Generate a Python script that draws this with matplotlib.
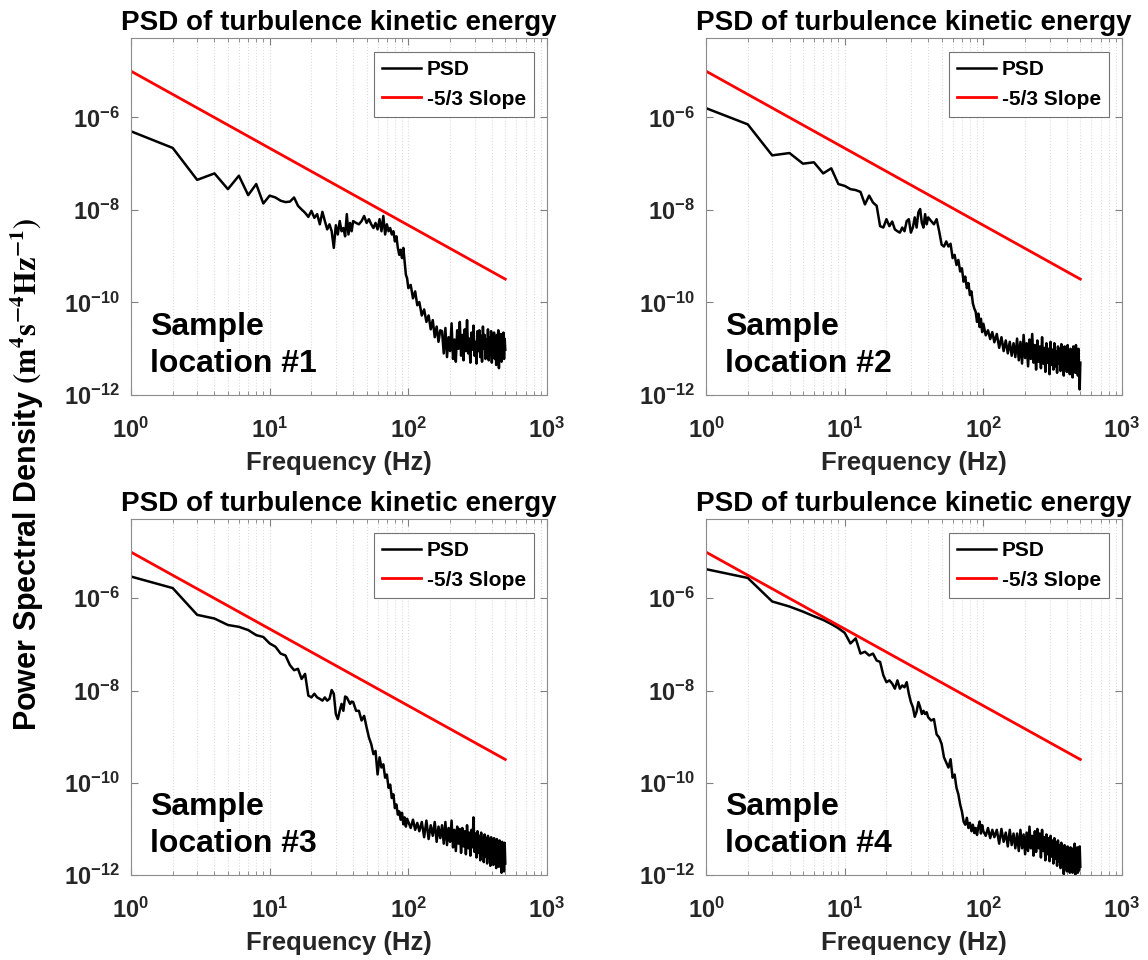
import numpy as np
import matplotlib.pyplot as plt
from matplotlib.ticker import FuncFormatter, LogLocator, NullLocator

plt.rcParams['font.family'] = ['Liberation Sans', 'DejaVu Sans']
plt.rcParams['font.weight'] = 'bold'
plt.rcParams['mathtext.fontset'] = 'custom'
plt.rcParams['mathtext.rm'] = 'Liberation Sans:bold'
plt.rcParams['mathtext.bf'] = 'Liberation Sans:bold'
plt.rcParams['mathtext.it'] = 'Liberation Sans:bold:italic'

# frequency bins (Hz) shared by all four spectra
freq_hz = list(range(1, 41)) + list(range(42, 101, 2)) + list(range(104, 121, 4)) + list(range(125, 501, 5))

# log10 of PSD
psd1_log = [
    -6.30, -6.66, -7.35, -7.21, -7.55, -7.26, -7.68, -7.44, -7.86, -7.69,
    -7.73, -7.80, -7.83, -7.82, -7.73, -7.91, -7.99, -8.06, -8.15, -8.02,
    -8.17, -8.09, -8.31, -8.04, -8.24, -8.42, -8.31, -8.46, -8.82, -8.33,
    -8.53, -8.24, -8.46, -8.39, -8.57, -8.09, -8.53, -8.28, -8.46, -8.24,
    -8.28, -8.31, -8.24, -8.13, -8.28, -8.20, -8.31, -8.39, -8.28, -8.42,
    -8.20, -8.46, -8.13, -8.53, -8.31, -8.46, -8.39, -8.53, -8.46, -8.68,
    -8.57, -8.82, -8.97, -8.86, -9.04, -8.82, -9.11, -9.40, -9.48, -9.69,
    -9.62, -9.91, -9.76, -10.06, -9.99,
    -10.28, -10.15, -10.42, -10.28, -10.58, -10.38, -10.75, -10.52, -10.85, -10.60,
    -10.62, -11.10, -10.55, -11.18, -10.75, -11.05, -10.45, -11.22, -10.80, -11.28,
    -10.60, -11.00, -10.42, -11.15, -10.70, -11.25, -10.58, -11.05, -10.38, -11.10,
    -10.78, -11.30, -10.65, -11.02, -10.50, -11.15, -10.85, -11.32, -10.62, -11.05,
    -10.60, -11.18, -10.72, -11.28, -10.52, -11.00, -10.70, -11.22, -10.80, -11.08,
    -10.58, -11.25, -10.75, -11.12, -10.62, -11.30, -10.85, -11.10, -10.65, -11.22,
    -10.78, -11.35, -10.70, -11.08, -10.60, -11.42, -10.82, -11.18, -10.68, -11.28,
    -10.85, -11.12, -10.65, -11.22, -10.78, -11.02,
]
psd2_log = [
    -5.80, -6.15, -6.82, -6.77, -7.00, -6.97, -7.21, -7.10, -7.44, -7.48,
    -7.55, -7.57, -7.61, -7.88, -7.69, -7.84, -7.91, -8.35, -8.38, -8.20,
    -8.35, -8.25, -8.42, -8.46, -8.49, -8.38, -8.46, -8.24, -8.20, -8.49,
    -8.38, -8.16, -8.38, -8.05, -7.98, -8.28, -8.38, -8.09, -8.31, -8.16,
    -8.24, -8.31, -8.20, -8.46, -8.75, -8.79, -8.68, -8.79, -8.73, -9.04,
    -8.97, -9.19, -9.08, -9.33, -9.26, -9.55, -9.44, -9.69, -9.58, -9.84,
    -9.76, -10.02, -10.13, -10.20, -10.42, -10.24, -10.53, -10.35, -10.64, -10.46,
    -10.71, -10.60, -10.79, -10.64, -10.86,
    -10.68, -10.98, -10.75, -11.05, -10.82, -11.10, -10.85, -11.15, -10.88, -11.18,
    -10.78, -11.25, -10.85, -11.32, -10.70, -11.20, -10.88, -11.38, -10.80, -11.22,
    -10.68, -11.30, -10.92, -11.45, -10.82, -11.28, -10.95, -11.42, -10.75, -11.32,
    -10.98, -11.50, -10.88, -11.30, -11.00, -11.55, -10.85, -11.35, -11.02, -11.45,
    -10.88, -11.38, -11.05, -11.52, -10.95, -11.32, -11.00, -11.48, -10.90, -11.38,
    -11.05, -11.58, -10.95, -11.35, -11.02, -11.50, -10.92, -11.42, -11.08, -11.55,
    -11.00, -11.38, -11.10, -11.62, -10.95, -11.45, -11.05, -11.52, -10.92, -11.42,
    -11.08, -11.58, -11.00, -11.45, -11.88, -11.30,
]
psd3_log = [
    -5.53, -5.78, -6.36, -6.44, -6.58, -6.62, -6.69, -6.80, -6.84, -6.98,
    -7.05, -7.20, -7.24, -7.45, -7.56, -7.53, -7.75, -7.64, -8.11, -8.15,
    -8.07, -8.15, -8.18, -8.22, -8.15, -8.22, -8.18, -7.99, -8.07, -8.51,
    -8.62, -8.44, -8.29, -8.44, -8.13, -8.15, -8.22, -8.29, -8.24, -8.25,
    -8.44, -8.44, -8.65, -8.55, -8.80, -9.02, -9.16, -9.38, -9.31, -9.82,
    -9.45, -9.67, -9.60, -9.89, -9.82, -10.11, -10.04, -10.33, -10.25, -10.55,
    -10.47, -10.69, -10.62, -10.80, -10.65, -10.90, -10.75, -10.95, -10.78, -10.85,
    -10.98, -10.80, -11.02, -10.87, -11.05,
    -10.85, -11.18, -10.82, -11.22, -10.92, -11.15, -10.85, -11.28, -10.95, -11.20,
    -10.92, -11.32, -10.85, -11.35, -10.98, -11.28, -10.82, -11.40, -11.02, -11.48,
    -10.95, -11.32, -11.00, -11.52, -10.98, -11.38, -11.05, -11.55, -10.92, -11.42,
    -11.08, -11.58, -11.02, -11.40, -10.75, -11.50, -11.10, -11.62, -11.05, -11.52,
    -11.15, -11.68, -11.08, -11.55, -11.18, -11.72, -11.12, -11.60, -11.20, -11.75,
    -11.15, -11.62, -11.22, -11.80, -11.18, -11.65, -11.25, -11.78, -11.20, -11.68,
    -11.28, -11.85, -11.22, -11.70, -11.30, -11.82, -11.25, -11.75, -11.32, -11.95,
    -11.28, -11.80, -11.35, -11.92, -11.30, -11.75,
]
psd4_log = [
    -5.37, -5.56, -6.07, -6.18, -6.29, -6.39, -6.47, -6.56, -6.65, -6.75,
    -6.98, -6.87, -7.20, -7.16, -7.24, -7.20, -7.35, -7.38, -7.67, -7.82,
    -7.78, -7.85, -7.96, -7.78, -7.96, -7.89, -7.93, -7.82, -8.07, -8.25,
    -8.36, -8.57, -8.46, -8.25, -8.36, -8.51, -8.44, -8.51, -8.47, -8.58,
    -8.65, -8.62, -8.95, -9.02, -9.16, -9.45, -9.56, -9.67, -9.49, -9.89,
    -9.82, -10.11, -10.25, -10.47, -10.62, -10.84, -10.91, -10.76, -10.98, -10.87,
    -11.05, -10.91, -11.09, -10.98, -11.13, -10.95, -10.84, -11.10, -10.92, -11.05,
    -11.15, -10.98, -11.20, -11.02, -11.18,
    -11.02, -11.32, -11.00, -11.28, -11.08, -11.38, -11.02, -11.35, -11.10, -11.42,
    -11.10, -11.48, -11.02, -11.42, -11.12, -11.55, -11.08, -11.48, -10.95, -11.42,
    -11.15, -11.58, -11.05, -11.50, -11.00, -11.42, -11.10, -11.62, -11.02, -11.48,
    -11.18, -11.68, -11.12, -11.55, -11.20, -11.70, -11.15, -11.60, -11.25, -11.75,
    -11.20, -11.65, -11.30, -11.80, -11.25, -11.70, -11.35, -11.85, -11.30, -11.75,
    -11.40, -11.98, -11.35, -11.82, -11.45, -11.92, -11.38, -11.80, -11.48, -11.95,
    -11.40, -11.85, -11.50, -11.95, -11.42, -11.88, -11.32, -11.99, -11.48, -11.85,
    -11.40, -11.95, -11.45, -11.90, -11.38, -11.82,
]

# -5/3 reference line, end points
slope_freq = [1, 500]
slope_psd = [1e-5, 3.2e-10]

sample_labels = ["Sample\nlocation #1", "Sample\nlocation #2",
                 "Sample\nlocation #3", "Sample\nlocation #4"]
panel_title = "PSD of turbulence kinetic energy"

fig = plt.figure(figsize=(11.48, 9.6), dpi=100)
positions = [
    [0.1141, 0.5885, 0.3624, 0.3719],
    [0.6150, 0.5885, 0.3624, 0.3719],
    [0.1141, 0.0885, 0.3624, 0.3708],
    [0.6150, 0.0885, 0.3624, 0.3708],
]

tick_fmt = FuncFormatter(lambda v, pos: r'$\mathbf{10^{%d}}$' % int(round(np.log10(v))))
label_grey = '#262626'

for pos, psd_log, label in zip(positions, [psd1_log, psd2_log, psd3_log, psd4_log], sample_labels):
    ax = fig.add_axes(pos)
    ax.loglog(freq_hz, 10.0 ** np.array(psd_log), color='black', lw=1.8, label='PSD')
    ax.loglog(slope_freq, slope_psd, color='red', lw=2.0, label='-5/3 Slope')

    ax.set_xlim(1, 1000)
    ax.set_ylim(1e-12, 5.2e-5)
    ax.xaxis.set_major_locator(LogLocator(base=10, numticks=10))
    ax.xaxis.set_minor_locator(LogLocator(base=10, subs=np.arange(2, 10), numticks=10))
    ax.yaxis.set_major_locator(LogLocator(base=100, numticks=10))
    ax.yaxis.set_minor_locator(NullLocator())
    ax.xaxis.set_major_formatter(tick_fmt)
    ax.yaxis.set_major_formatter(tick_fmt)
    ax.tick_params(which='both', direction='in', top=True, right=True, labelsize=17,
                   color='0.5', labelcolor=label_grey)
    ax.tick_params(axis='x', which='major', pad=16)
    ax.tick_params(axis='y', which='major', pad=8)
    ax.tick_params(which='major', length=5)
    ax.tick_params(which='minor', length=3)
    for sp in ax.spines.values():
        sp.set_color('0.55')
    ax.grid(True, which='both', axis='x', color='#dcdcdc', linestyle=':', lw=0.8)

    ax.set_title(panel_title, fontsize=20, fontweight='bold', pad=6)
    ax.set_xlabel('Frequency (Hz)', fontsize=18.5, fontweight='bold', color=label_grey, labelpad=6)
    ax.text(0.046, 0.045, label, transform=ax.transAxes, fontsize=23,
            fontweight='bold', ha='left', va='bottom', linespacing=1.32)

    leg = ax.legend(loc='upper right', bbox_to_anchor=(0.969, 0.961), borderaxespad=0,
                    fontsize=15, handlelength=1.9, handletextpad=0.25,
                    fancybox=False, framealpha=1, edgecolor='0.45')
    leg.get_frame().set_linewidth(0.8)

fig.text(0.024, 0.506, r'Power Spectral Density $(\mathbf{m^4s^{-4}Hz^{-1}})$',
         rotation=90, ha='center', va='center', fontsize=22, fontweight='bold',
         math_fontfamily='stix')

fig.savefig('out.png', dpi=100)
